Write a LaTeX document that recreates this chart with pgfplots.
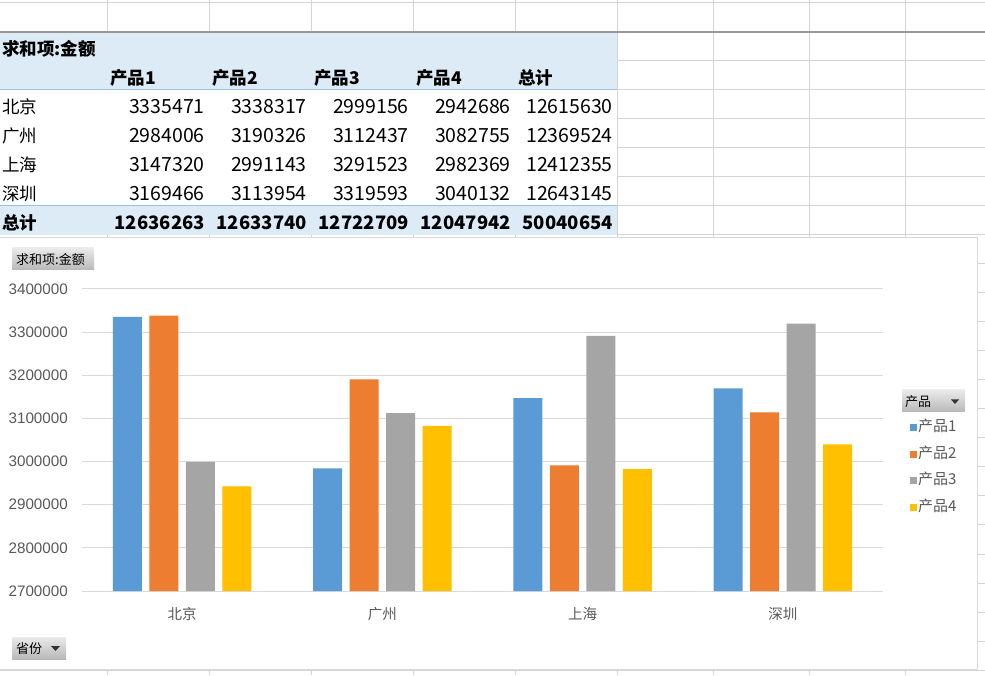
\documentclass[border=0pt]{standalone}
\usepackage{pgfplots}
\pgfplotsset{compat=1.18}
\usepackage{fontspec}
\setmainfont{Noto Sans CJK SC}
\newfontfamily\arialf{Liberation Sans}
\newcommand\fs[1]{\fontsize{#1}{#1}\selectfont}

\definecolor{cA}{HTML}{5B9BD5}
\definecolor{cB}{HTML}{ED7D31}
\definecolor{cC}{HTML}{A5A5A5}
\definecolor{cD}{HTML}{FFC000}
\definecolor{hdr}{HTML}{DDEBF7}
\definecolor{hline}{HTML}{9BC2E6}
\definecolor{sheet}{HTML}{D4D4D4}
\definecolor{gridc}{HTML}{D9D9D9}
\definecolor{txt}{HTML}{595959}

\pgfplotsset{sq/.style={legend image code/.code={\fill[##1] (0pt,-3.5pt) rectangle (7pt,3.5pt);}}}

\begin{document}
\begin{tikzpicture}[x=1pt,y=1pt]
\useasboundingbox (0,0) rectangle (985,675);
\fill[white] (0,0) rectangle (985,675);

% sheet and table in screen pixels, y counted from the top
\begin{scope}[yshift=675pt, y=-1pt]
\foreach \yy in {3,32,...,670} \draw[sheet, line width=1pt] (0,\yy) -- (985,\yy);
\foreach \xx in {107,209,311,413,515,617,713,809,905} \draw[sheet, line width=1pt] (\xx,0) -- (\xx,675);

% pivot table
\fill[white] (0,33) rectangle (616.5,235);
\fill[hdr] (0,33) rectangle (616.5,90);
\fill[hdr] (0,206) rectangle (616.5,235);
\draw[hline, line width=1pt] (0,90) -- (616.5,90) (0,206) -- (616.5,206);
\draw[sheet, line width=1pt] (617,0) -- (617,240);
\draw[black!40, line width=1.3pt] (0,32) -- (985,32);

\node[anchor=base west, inner sep=0pt, font=\fs{17.5}\bfseries] at (2,56) {求和项:金额};
\foreach \xx/\t in {110/产品1,212/产品2,314/产品3,416/产品4,518/总计}
  \node[anchor=base west, inner sep=0pt, font=\fs{17.5}\bfseries] at (\xx,85) {\t};
\foreach \yb/\name/\a/\b/\c/\d/\e in {
  114/北京/3335471/3338317/2999156/2942686/12615630,
  143/广州/2984006/3190326/3112437/3082755/12369524,
  172/上海/3147320/2991143/3291523/2982369/12412355,
  201/深圳/3169466/3113954/3319593/3040132/12643145}{
  \node[anchor=base west, inner sep=0pt, font=\fs{17.5}] at (2,\yb) {\name};
  \node[anchor=base east, inner sep=0pt, font=\fs{19.5}] at (205,\yb) {\a};
  \node[anchor=base east, inner sep=0pt, font=\fs{19.5}] at (307,\yb) {\b};
  \node[anchor=base east, inner sep=0pt, font=\fs{19.5}] at (409,\yb) {\c};
  \node[anchor=base east, inner sep=0pt, font=\fs{19.5}] at (511,\yb) {\d};
  \node[anchor=base east, inner sep=0pt, font=\fs{19.5}] at (613,\yb) {\e};
}
\node[anchor=base west, inner sep=0pt, font=\fs{17.5}\bfseries] at (2,230) {总计};
\foreach \xx/\v in {205/12636263,307/12633740,409/12722709,511/12047942,613/50040654}
  \node[anchor=base east, inner sep=0pt, font=\fs{18.5}\bfseries] at (\xx,230) {\v};

% chart area
\fill[white] (-1,238) rectangle (977,669);
\draw[gridc, line width=1pt] (-1,238) rectangle (977,669);

% field buttons
\shade[top color=black!8, bottom color=black!28] (12,248) rectangle (94,270);
\node[anchor=west, inner sep=0pt, font=\fs{13}] at (16,259.5) {求和项:金额};
\shade[top color=black!8, bottom color=black!28] (12,637) rectangle (66,659);
\node[anchor=west, inner sep=0pt, font=\fs{13}] at (16,648.5) {省份};
\fill[black!80] (51,646) -- (60,646) -- (55.5,651) -- cycle;
\shade[top color=black!8, bottom color=black!28] (902,390) rectangle (965,412);
\node[anchor=west, inner sep=0pt, font=\fs{13}] at (905,401.5) {产品};
\fill[black!80] (951,399.5) -- (959,399.5) -- (955,404) -- cycle;
\end{scope}

\begin{axis}[
  at={(82pt,84pt)}, anchor=south west,
  scale only axis, width=801pt, height=302pt,
  ybar=7.5pt, bar width=29pt,
  xmin=-0.5, xmax=3.5,
  ymin=2700000, ymax=3400000,
  ytick={2700000,2800000,2900000,3000000,3100000,3200000,3300000,3400000},
  xtick={0,1,2,3},
  xticklabels={北京,广州,上海,深圳},
  axis line style={draw=none},
  major tick length=0pt,
  ymajorgrids,
  grid style={gridc, line width=1pt},
  scaled y ticks=false,
  yticklabel style={/pgf/number format/fixed, /pgf/number format/1000 sep={},
    /pgf/number format/assume math mode=true,
    font=\arialf\fs{15.2}, text=txt, inner sep=0pt, xshift=-14pt},
  xticklabel style={font=\fs{14.5}, text=txt, inner sep=0pt, yshift=-16pt},
  legend style={at={(rel axis cs:1.033,0.57)}, anchor=north west,
    draw=none, fill=none, inner sep=0pt, font=\fs{15}, text=txt,
    row sep=9.5pt, nodes={inner sep=1.5pt, text height=11pt, text depth=3pt}},
  legend cell align=left,
]
\addplot[fill=cA, draw=none, sq] coordinates {(0,3335471) (1,2984006) (2,3147320) (3,3169466)};
\addplot[fill=cB, draw=none, sq] coordinates {(0,3338317) (1,3190326) (2,2991143) (3,3113954)};
\addplot[fill=cC, draw=none, sq] coordinates {(0,2999156) (1,3112437) (2,3291523) (3,3319593)};
\addplot[fill=cD, draw=none, sq] coordinates {(0,2942686) (1,3082755) (2,2982369) (3,3040132)};
\legend{产品1,产品2,产品3,产品4}
\end{axis}
\end{tikzpicture}
\end{document}
